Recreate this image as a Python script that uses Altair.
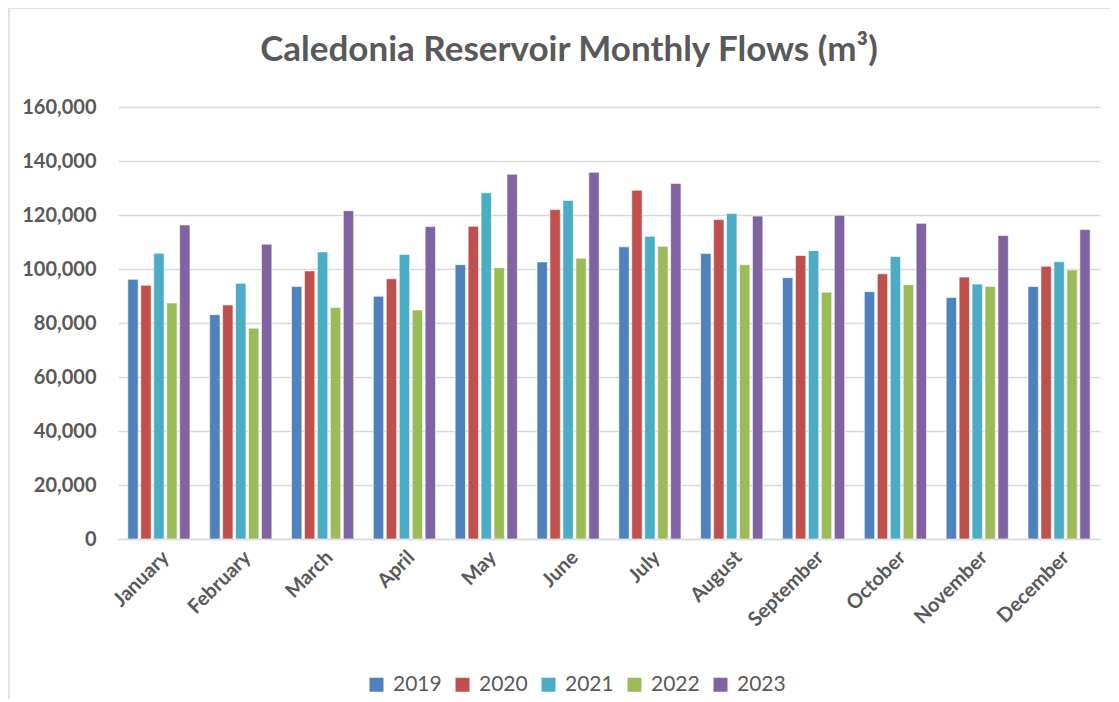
import altair as alt
import pandas as pd

months = ["January", "February", "March", "April", "May", "June", "July",
          "August", "September", "October", "November", "December"]
years = ["2019", "2020", "2021", "2022", "2023"]
flows_2019 = [96200, 83100, 93500, 89900, 101600, 102600, 108200, 105700, 96800, 91600, 89400, 93500]
flows_2020 = [94000, 86700, 99300, 96400, 115800, 122000, 129200, 118300, 105000, 98200, 97000, 101000]
flows_2021 = [105800, 94700, 106300, 105400, 128200, 125400, 112100, 120600, 106800, 104600, 94400, 102700]
flows_2022 = [87400, 78100, 85700, 84800, 100500, 104000, 108400, 101600, 91400, 94200, 93500, 99600]
flows_2023 = [116300, 109200, 121600, 115700, 135100, 135800, 131700, 119600, 119900, 116900, 112400, 114600]
colors = ["#4F81BD", "#C0504D", "#4BACC6", "#9BBB59", "#8064A2"]
title_text = "Caledonia Reservoir Monthly Flows (m³)"

series = [flows_2019, flows_2020, flows_2021, flows_2022, flows_2023]
rows = []
for yr, vals in zip(years, series):
    for m, v in zip(months, vals):
        rows.append({"Month": m, "Year": yr, "Flow": v})
df = pd.DataFrame(rows)

FONT = "Lato"
GREY = "#595959"

bars = alt.Chart(df).mark_bar(stroke="white", strokeWidth=0.6).encode(
    x=alt.X("Month:N", sort=months, title=None,
            scale=alt.Scale(paddingInner=0.24, paddingOuter=0.12),
            axis=alt.Axis(labelAngle=-45, labelFont=FONT, labelFontSize=20,
                          labelFontWeight="bold", labelColor=GREY, ticks=False,
                          domainColor="#d9d9d9", domainWidth=1.5, labelPadding=8)),
    xOffset=alt.XOffset("Year:N", sort=years, scale=alt.Scale(paddingInner=0.2)),
    y=alt.Y("Flow:Q", title=None,
            scale=alt.Scale(domain=[0, 160000], nice=False),
            axis=alt.Axis(values=list(range(0, 160001, 20000)), format=",.0f",
                          labelFont=FONT, labelFontSize=20, labelFontWeight="bold",
                          labelColor=GREY, ticks=False, domain=False,
                          gridColor="#d9d9d9", gridWidth=1.5, labelPadding=22)),
    color=alt.Color("Year:N", sort=years,
                    scale=alt.Scale(domain=years, range=colors),
                    legend=alt.Legend(title=None, orient="none", direction="horizontal",
                                      legendX=248, legendY=567, symbolType="square",
                                      symbolSize=196, symbolStrokeWidth=0,
                                      labelFont=FONT, labelFontSize=21,
                                      labelColor=GREY, columnPadding=10,
                                      labelOffset=6)),
)

title = alt.Chart(pd.DataFrame({"t": [title_text]})).mark_text(
    font=FONT, fontSize=35, fontWeight="bold", color=GREY,
    align="center", baseline="middle").encode(
    text="t:N", x=alt.value(451), y=alt.value(-57))

frame_left = alt.Chart(pd.DataFrame({"k": [0]})).mark_rule(color="#d9d9d9", strokeWidth=1.5).encode(
    x=alt.value(-109), y=alt.value(-99), y2=alt.value(600))
frame_top = alt.Chart(pd.DataFrame({"k": [0]})).mark_rule(color="#d9d9d9", strokeWidth=1.5).encode(
    x=alt.value(-109), x2=alt.value(1000), y=alt.value(-99))

chart = alt.layer(bars, title, frame_left, frame_top).properties(
    width=982, height=432,
    autosize=alt.AutoSizeParams(type="none"),
    padding={"left": 110, "top": 99, "right": 10, "bottom": 160},
).configure_view(stroke=None)

chart.save("out.html", embed_options={"renderer": "svg", "actions": False})
